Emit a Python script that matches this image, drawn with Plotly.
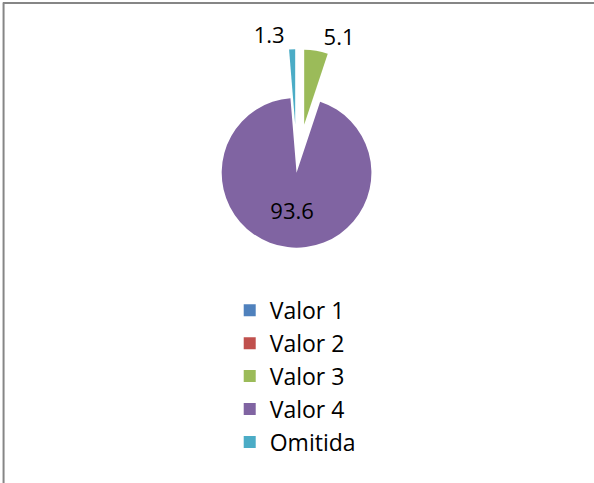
import plotly.graph_objects as go

labels = ["Valor 1", "Valor 2", "Valor 3", "Valor 4", "Omitida"]
values = [0, 0, 5.1, 93.6, 1.3]
colors = ["#4F81BD", "#C0504D", "#9BBB59", "#8064A2", "#4BACC6"]
pulls = [0.6, 0.6, 0.6, 0.05, 0.6]
text_positions = ["outside", "outside", "outside", "inside", "outside"]

FONT = "Open Sans"
slice_text = [f"{v}" if v else "" for v in values]

fig = go.Figure(go.Pie(
    labels=labels,
    values=values,
    text=slice_text,
    textinfo="text",
    sort=False,
    direction="clockwise",
    rotation=0,
    pull=pulls,
    marker=dict(colors=colors, line=dict(color="white", width=0)),
    textposition=text_positions,
    insidetextorientation="horizontal",
    textfont=dict(family=FONT, size=22, color="black"),
    domain=dict(x=[0.298, 0.702], y=[0.402, 0.898]),
    showlegend=True,
    hoverinfo="label+value",
))

fig.update_layout(
    width=594, height=483,
    margin=dict(l=0, r=0, t=0, b=0, autoexpand=False),
    paper_bgcolor="white",
    font=dict(family=FONT, size=23, color="black"),
    legend=dict(x=0.497, xanchor="center", y=0.402, yanchor="top",
                font=dict(family=FONT, size=23, color="black"),
                itemwidth=30, traceorder="normal"),
    shapes=[
        dict(type="line", xref="paper", yref="paper", x0=0.005, x1=1, y0=0.994, y1=0.994,
             line=dict(color="#868686", width=2)),
        dict(type="line", xref="paper", yref="paper", x0=0.006, x1=0.006, y0=0, y1=0.995,
             line=dict(color="#868686", width=2)),
    ],
)

fig.write_html("out.html", config={"displayModeBar": False},
               post_script="document.body.style.margin='0px';")
